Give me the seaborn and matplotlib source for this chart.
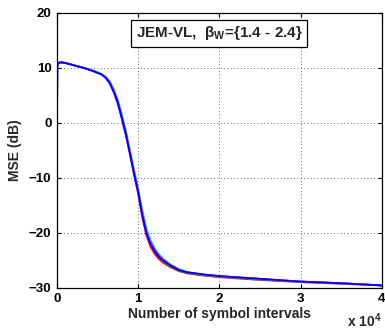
import pandas as pd
import matplotlib
matplotlib.use('Agg')
import matplotlib.pyplot as plt
import seaborn as sns

# dados (eixo x em intervalos de simbolo)
n_sym = [0, 40, 150, 500, 1000, 1500, 2500, 3500, 4500, 5500, 6000, 6500, 7000, 7500,
         8000, 8500, 9000, 9500, 10000, 10500, 11000, 11500, 12000, 12500, 13000,
         14000, 15000, 16000, 18000, 20000, 25000, 30000, 35000, 40000]

mse_red = [0, 10.3, 10.9, 11.0, 10.9, 10.7, 10.3, 9.9, 9.4, 8.8, 8.2, 7.2, 5.5, 3.4,
           0.6, -2.4, -5.9, -9.6, -13.0, -17.2, -20.5, -22.5, -23.8, -24.7, -25.4,
           -26.3, -27.0, -27.4, -27.8, -28.1, -28.6, -29.0, -29.3, -29.6]
mse_green = [0, 10.3, 10.9, 11.0, 10.9, 10.7, 10.3, 9.9, 9.4, 8.8, 8.2, 7.3, 5.8, 3.8,
             1.0, -2.0, -5.5, -9.1, -12.5, -16.6, -19.8, -21.9, -23.3, -24.3, -25.1,
             -26.1, -26.9, -27.3, -27.7, -28.0, -28.5, -28.9, -29.2, -29.6]
mse_cyan = [0, 10.3, 10.9, 11.0, 10.9, 10.7, 10.3, 9.9, 9.5, 8.9, 8.4, 7.6, 6.2, 4.3,
            1.6, -1.4, -4.9, -8.5, -11.9, -15.8, -19.0, -21.2, -22.7, -23.8, -24.6,
            -25.8, -26.6, -27.1, -27.6, -27.9, -28.4, -28.9, -29.2, -29.6]
mse_magenta = [0, 10.3, 10.9, 11.0, 10.9, 10.7, 10.3, 9.9, 9.4, 8.8, 8.3, 7.4, 5.9, 3.9,
               1.1, -1.9, -5.4, -9.0, -12.3, -16.3, -19.6, -21.6, -23.0, -24.0, -24.8,
               -25.9, -26.7, -27.2, -27.6, -27.9, -28.4, -28.9, -29.2, -29.6]
mse_blue = [0, 10.3, 10.9, 11.0, 10.9, 10.7, 10.3, 9.9, 9.4, 8.8, 8.2, 7.2, 5.6, 3.6,
            0.8, -2.2, -5.7, -9.3, -12.6, -16.8, -20.0, -22.0, -23.3, -24.3, -25.0,
            -26.0, -26.8, -27.2, -27.6, -27.9, -28.4, -28.9, -29.2, -29.6]

series = ['r', 'g', 'c', 'm', 'b']
cores = {'r': 'red', 'g': '#00c000', 'c': 'cyan', 'm': 'magenta', 'b': 'blue'}

x_ticks = [0, 10000, 20000, 30000, 40000]
x_ticklabels = ['0', '1', '2', '3', '4']
y_ticks = [-30, -20, -10, 0, 10, 20]

df = pd.DataFrame({
    'n': n_sym * 5,
    'mse': mse_red + mse_green + mse_cyan + mse_magenta + mse_blue,
    'serie': [s for s in series for _ in n_sym],
})

sns.set_style('ticks')
plt.rcParams['font.family'] = ['Liberation Sans', 'DejaVu Sans']
plt.rcParams['font.weight'] = 'bold'
plt.rcParams['mathtext.fontset'] = 'custom'
plt.rcParams['mathtext.rm'] = 'Liberation Sans:bold'
plt.rcParams['mathtext.it'] = 'Liberation Sans:bold'
plt.rcParams['mathtext.bf'] = 'Liberation Sans:bold'

fig = plt.figure(figsize=(3.85, 3.31), dpi=100)
ax = fig.add_axes([0.148, 0.131, 0.844, 0.830])

sns.lineplot(data=df, x='n', y='mse', hue='serie', hue_order=series, palette=cores,
             linewidth=1.3, legend=False, ax=ax)

ax.set_xlim(0, 40000)
ax.set_ylim(-30, 20)
ax.set_xticks(x_ticks)
ax.set_xticklabels(x_ticklabels)
ax.set_yticks(y_ticks)
ax.tick_params(direction='in', length=3, width=0.8, labelsize=9.5, pad=4,
               top=True, right=True, colors='black')
for sp in ax.spines.values():
    sp.set_visible(True)
    sp.set_linewidth(0.9)
    sp.set_color('black')
ax.grid(True, linestyle=(0, (1, 3)), linewidth=0.6, color='#333333')

ax.set_xlabel('Number of symbol intervals', fontsize=10, fontweight='bold', labelpad=1)
ax.set_ylabel('MSE (dB)', fontsize=10, fontweight='bold', labelpad=5)

ax.text(20000, 16.3, r'JEM-VL,  $\beta_W$={1.4 - 2.4}', fontsize=11, fontweight='bold',
        ha='center', va='center',
        bbox=dict(boxstyle='square,pad=0.3', facecolor='white', edgecolor='black', linewidth=0.9))

fig.text(0.992, 0.012, r'x 10$^4$', fontsize=10, fontweight='bold', ha='right', va='baseline')

plt.savefig('out.png', dpi=100)
